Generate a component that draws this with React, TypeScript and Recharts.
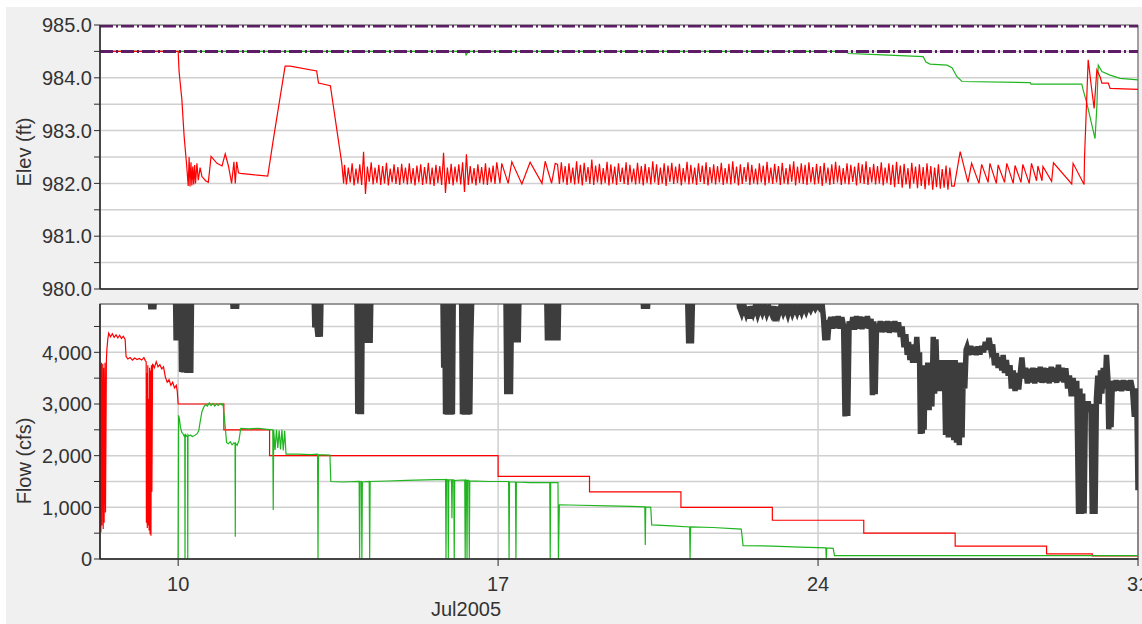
import React from 'react';
import { LineChart, Line, XAxis, YAxis, CartesianGrid, ReferenceArea } from 'recharts';

const FONT = '"Liberation Sans", Arial, Helvetica, sans-serif';

// ---------- shared x axis (day of July 2005) ----------
const dayDomain = [8.29, 31];
const dayTicks = [10, 17, 24, 31];
const monthLabel = 'Jul2005';

// ---------- top chart: elevation ----------
const elevDomain = [980, 985];
const elevTicks = [980, 980.5, 981, 981.5, 982, 982.5, 983, 983.5, 984, 984.5, 985];
const elevLimitLevels = [984.98, 984.5];

const elevGreenPts = [
  [8.29, 984.5], [16.28, 984.5], [16.3, 984.43], [16.33, 984.47], [16.35, 984.5],
  [24.63, 984.5], [24.66, 984.46], [25.29, 984.44], [26.3, 984.4], [26.36, 984.3],
  [26.45, 984.26], [26.82, 984.24], [26.93, 984.19], [27.04, 984.02], [27.15, 983.93],
  [28.64, 983.91], [28.66, 983.88], [29.77, 983.88], [29.8, 983.77], [29.88, 983.52],
  [30.06, 982.85], [30.1, 983.45], [30.13, 984.24], [30.21, 984.12], [30.39, 984.05],
  [30.61, 983.99], [31.0, 983.96],
];

const elevRedA = [
  [8.29, 984.5], [10.0, 984.5], [10.02, 984.12], [10.08, 983.6], [10.13, 982.9], [10.19, 982.3],
  [10.22, 981.95], [10.24, 982.5], [10.26, 981.94], [10.28, 982.4], [10.3, 981.96], [10.32, 982.32],
  [10.34, 981.98], [10.36, 982.35], [10.38, 982.0], [10.41, 982.38], [10.44, 982.06], [10.48, 982.3],
  [10.52, 982.13], [10.6, 982.05], [10.66, 982.02], [10.72, 982.51], [10.85, 982.38], [10.96, 982.33],
  [11.03, 982.56], [11.1, 982.33], [11.17, 982.0], [11.22, 982.41], [11.25, 982.0], [11.28, 982.41],
  [11.32, 982.2], [11.36, 982.19], [11.68, 982.16], [11.96, 982.14], [12.08, 982.82], [12.34, 984.22],
  [12.45, 984.22], [13.03, 984.13], [13.07, 983.9], [13.33, 983.85], [13.58, 982.38], [13.62, 982.0],
];
const elevRedDense1Start = 13.64;
const elevRedDense1 = [
  982.35, 981.98, 982.30, 982.02, 982.38, 981.96, 982.28, 982.00, 982.36, 981.97,
  982.60, 981.80, 982.32, 982.03, 982.40, 981.98, 982.30, 982.01, 982.35, 981.97,
  982.33, 982.00, 982.39, 981.96, 982.28, 982.02, 982.36, 981.99, 982.31, 981.97,
  982.37, 982.01, 982.30, 981.98, 982.38, 982.00, 982.29, 981.96, 982.34, 982.02,
  982.36, 981.97, 982.31, 982.00, 982.39, 981.98, 982.30, 981.95, 982.35, 982.01,
  982.33, 981.97, 982.58, 981.82, 982.30, 981.99, 982.37, 981.96, 982.32, 982.02,
  982.36, 981.98, 982.40, 981.84, 982.55, 981.97, 982.33, 982.00, 982.29, 981.96,
  982.36, 982.01, 982.31, 981.98, 982.38, 981.97, 982.30, 982.02, 982.34, 981.99,
];
const elevRedB = [
  [16.97, 982.4], [17.04, 982.0], [17.08, 982.38], [17.22, 982.0], [17.3, 982.41], [17.52, 981.99],
  [17.7, 982.4], [17.96, 982.0], [18.03, 982.42], [18.17, 982.0], [18.25, 982.38],
];
const elevRedDense2Start = 18.3;
const elevRedDense2 = [
  982.36, 981.99, 982.40, 982.02, 982.33, 981.97, 982.38, 982.01, 982.30, 981.98, 982.42, 982.00,
  982.35, 981.96, 982.39, 982.03, 982.31, 981.99, 982.45, 981.97, 982.34, 982.02, 982.37, 981.98,
  982.29, 982.01, 982.41, 981.96, 982.36, 982.00, 982.32, 981.97, 982.38, 982.03, 982.30, 981.99,
  982.40, 981.97, 982.35, 982.02, 982.28, 981.98, 982.39, 982.00, 982.33, 981.96, 982.37, 982.01,
  982.31, 981.98, 982.42, 982.02, 982.36, 981.97, 982.30, 982.00, 982.38, 981.95, 982.34, 982.03,
  982.39, 981.99, 982.32, 982.01, 982.37, 981.96, 982.29, 982.02, 982.41, 981.98, 982.35, 982.00,
  982.30, 981.97, 982.38, 982.03, 982.34, 981.99, 982.40, 981.96, 982.31, 982.01, 982.36, 981.98,
  982.33, 982.02, 982.39, 981.97, 982.29, 982.00, 982.37, 981.98, 982.42, 982.01, 982.32, 981.96,
  982.36, 981.99, 982.31, 982.03, 982.40, 981.97, 982.35, 982.00, 982.28, 981.98, 982.38, 982.02,
  982.34, 981.96, 982.41, 982.01, 982.30, 981.99, 982.37, 982.02, 982.33, 981.97, 982.39, 982.00,
  982.29, 981.98, 982.36, 982.03, 982.42, 981.96, 982.32, 982.01, 982.38, 981.99, 982.35, 981.97,
  982.40, 982.02, 982.31, 981.98, 982.37, 982.00, 982.33, 981.95, 982.39, 982.01, 982.30, 981.97,
  982.36, 981.99, 982.41, 982.02, 982.34, 981.97, 982.29, 982.00, 982.38, 981.98, 982.35, 982.03,
  982.32, 981.96, 982.39, 982.01, 982.36, 981.99, 982.42, 981.97, 982.31, 982.02, 982.37, 981.98,
  982.33, 982.00, 982.40, 981.96, 982.30, 982.01, 982.38, 981.97, 982.35, 981.93, 982.41, 981.99,
  982.34, 981.92, 982.37, 981.98, 982.29, 981.90, 982.39, 982.00, 982.32, 981.91, 982.36, 981.95,
  982.31, 981.89, 982.38, 981.96, 982.33, 981.88, 982.30, 981.93, 982.36, 981.90, 982.27, 981.92,
  982.34, 981.88, 982.30, 981.95,
];
const elevRedC = [
  [26.98, 981.95], [27.11, 982.6], [27.28, 982.02], [27.36, 982.38], [27.52, 982.0], [27.58, 982.36],
  [27.72, 982.02], [27.76, 982.38], [27.9, 982.0], [27.94, 982.35], [28.08, 982.02], [28.13, 982.38],
  [28.27, 982.0], [28.31, 982.34], [28.44, 982.02], [28.48, 982.36], [28.62, 982.0], [28.67, 982.38],
  [28.78, 982.05], [28.81, 982.33], [28.9, 982.05], [28.92, 982.32], [29.11, 982.04], [29.15, 982.39],
  [29.55, 981.99], [29.58, 982.38], [29.82, 981.98], [29.83, 982.5], [29.91, 984.34], [29.98, 983.83],
  [30.04, 983.42], [30.1, 984.15], [30.17, 984.02], [30.21, 983.9], [30.35, 983.9], [30.39, 983.8],
  [31.0, 983.78],
];

// ---------- bottom chart: flow ----------
const flowDomain = [0, 4935];
const flowTicks = [0, 500, 1000, 1500, 2000, 2500, 3000, 3500, 4000, 4500];

const flowRedPts = [
  [8.29, 600], [8.3, 3750], [8.31, 520], [8.32, 3800], [8.33, 650], [8.35, 3780], [8.36, 580], [8.37, 3700],
  [8.38, 700], [8.4, 3800], [8.41, 900], [8.43, 3850], [8.44, 4050], [8.46, 4250], [8.48, 4370], [8.52, 4300],
  [8.56, 4360], [8.6, 4290], [8.64, 4340], [8.68, 4280], [8.72, 4330], [8.76, 4270], [8.8, 4310], [8.84, 4250],
  [8.86, 3920], [8.9, 3870], [8.95, 3900], [9.0, 3850], [9.05, 3890], [9.1, 3860], [9.15, 3880], [9.2, 3850],
  [9.25, 3900], [9.28, 3840], [9.3, 3820], [9.305, 700], [9.315, 3600], [9.325, 600], [9.335, 3750],
  [9.345, 650], [9.355, 3100], [9.365, 550], [9.375, 3700], [9.385, 480], [9.395, 3650], [9.405, 450],
  [9.415, 3750], [9.425, 1300], [9.44, 3780], [9.48, 3700], [9.52, 3820], [9.56, 3720], [9.6, 3760],
  [9.64, 3680], [9.68, 3720], [9.72, 3520], [9.76, 3420], [9.8, 3470], [9.84, 3360], [9.88, 3420],
  [9.92, 3310], [9.96, 3360], [9.98, 3250], [10.0, 3000], [11.0, 3000], [11.0, 2500], [12.0, 2500],
  [12.0, 2000], [17.0, 2000], [17.0, 1600], [19.0, 1600], [19.0, 1300], [21.0, 1300], [21.0, 1000],
  [23.0, 1000], [23.0, 750], [25.0, 750], [25.0, 500], [27.0, 500], [27.0, 250], [29.0, 250], [29.0, 100],
  [30.0, 100], [30.0, 60], [31.0, 60],
];

const flowGreenPts = [
  [10.0, 0], [10.01, 2780], [10.03, 2700], [10.05, 2550], [10.08, 2450], [10.11, 2420], [10.13, 2380],
  [10.145, 2400], [10.15, 0], [10.155, 2350], [10.17, 2400], [10.19, 2380], [10.205, 2350], [10.21, 0],
  [10.215, 2400], [10.23, 2380], [10.27, 2400], [10.31, 2370], [10.36, 2390], [10.41, 2420], [10.45, 2480],
  [10.48, 2650], [10.52, 2850], [10.56, 2940], [10.6, 2990], [10.64, 2960], [10.68, 3020], [10.72, 2970],
  [10.76, 3010], [10.8, 2960], [10.84, 3000], [10.88, 2970], [10.92, 3010], [10.96, 2980], [10.98, 3000],
  [11.01, 2750], [11.04, 2450], [11.06, 2250], [11.1, 2230], [11.14, 2270], [11.18, 2210], [11.22, 2250],
  [11.245, 2230], [11.25, 430], [11.255, 2240], [11.29, 2200], [11.33, 2290], [11.37, 2530], [11.55, 2520],
  [11.75, 2530], [11.95, 2510], [12.07, 2500], [12.08, 950], [12.09, 2500], [12.12, 2110], [12.15, 2500],
  [12.18, 2150], [12.21, 2490], [12.24, 2120], [12.27, 2500], [12.3, 2100], [12.33, 2480], [12.36, 2030],
  [12.6, 2030], [12.9, 2020], [13.05, 2030], [13.06, 0], [13.07, 2020], [13.32, 2010], [13.34, 1500],
  [13.6, 1490], [13.96, 1500], [13.97, 0], [13.98, 1500], [14.01, 1500], [14.02, 0], [14.03, 1490],
  [14.18, 1500], [14.19, 0], [14.2, 1500], [14.6, 1510], [15.0, 1520], [15.4, 1530], [15.85, 1540],
  [15.86, 0], [15.87, 1540], [15.9, 1530], [15.91, 0], [15.92, 1530], [15.98, 1530], [15.99, 790],
  [16.0, 1530], [16.03, 1530], [16.04, 0], [16.05, 1520], [16.27, 1530], [16.28, 0], [16.29, 1530],
  [16.31, 1520], [16.32, 0], [16.33, 1520], [16.36, 1520], [16.37, 0], [16.38, 1510], [16.8, 1500],
  [17.23, 1500], [17.24, 0], [17.25, 1490], [17.38, 1490], [17.39, 0], [17.4, 1490], [17.7, 1480],
  [18.13, 1480], [18.14, 0], [18.15, 1480], [18.31, 1480], [18.32, 0], [18.34, 1050], [18.8, 1040],
  [19.4, 1030], [19.9, 1020], [20.21, 1010], [20.22, 270], [20.23, 1010], [20.34, 1000], [20.36, 660],
  [20.8, 640], [21.19, 620], [21.2, 0], [21.21, 620], [21.7, 610], [22.32, 580], [22.36, 260], [23.0, 250],
  [23.6, 230], [24.17, 215], [24.18, 0], [24.19, 215], [24.33, 205], [24.36, 64], [31.0, 64],
];

const flowDarkPts = [
  [8.29, 5300], [9.37, 5300], [9.4, 4880], [9.44, 4880], [9.47, 4880], [9.5, 5300],
  [9.94, 5300], [9.955, 4230], [9.975, 5300], [9.995, 4230], [10.015, 5300], [10.035, 4230], [10.055, 5300],
  [10.075, 3620], [10.095, 5300], [10.115, 3610], [10.135, 5300], [10.155, 3620], [10.175, 5300],
  [10.195, 3600], [10.215, 5300], [10.235, 3620], [10.255, 5300], [10.275, 3600], [10.295, 5300],
  [11.17, 5300], [11.2, 4890], [11.28, 4890], [11.31, 5300],
  [12.97, 5300], [12.99, 4480], [13.02, 5300], [13.04, 4480], [13.06, 4300], [13.09, 5300], [13.11, 4300],
  [13.13, 5300],
  [13.91, 5300], [13.93, 2810], [13.95, 5300], [13.97, 2800], [13.99, 5300], [14.01, 2800], [14.03, 5300],
  [14.1, 5300], [14.12, 4180], [14.14, 5300], [14.16, 4180], [14.18, 5300], [14.2, 4180], [14.22, 5300],
  [15.79, 5300], [15.81, 3700], [15.83, 5300], [15.85, 2800], [15.87, 5300], [15.89, 2790], [15.91, 5300],
  [15.93, 2800], [15.95, 5300], [15.97, 2790], [15.99, 5300], [16.0, 2800], [16.02, 5300],
  [16.2, 5300], [16.22, 2800], [16.24, 5300], [16.26, 2790], [16.28, 5300], [16.3, 2800], [16.32, 5300],
  [16.34, 2790], [16.36, 5300], [16.38, 2800], [16.4, 4200], [16.43, 5300],
  [17.17, 5300], [17.19, 3190], [17.21, 5300], [17.23, 3190], [17.25, 5300], [17.27, 3190], [17.3, 5300],
  [17.32, 4190], [17.35, 5300], [17.38, 4190], [17.41, 5300], [17.44, 4190], [17.46, 5300],
  [18.06, 5300], [18.08, 4230], [18.11, 5300], [18.14, 4230], [18.17, 5300], [18.2, 4230], [18.23, 5300],
  [18.26, 4230], [18.29, 5300], [18.31, 4230], [18.33, 5300],
  [20.15, 5300], [20.18, 4890], [20.27, 4890], [20.3, 5300],
  [21.14, 5300], [21.17, 4170], [21.2, 5300], [21.23, 4170], [21.26, 5300],
  [22.25, 5300], [22.28, 4880], [22.33, 4760], [22.38, 4900], [22.43, 4750], [22.48, 4880], [22.5, 4650],
  [22.53, 4890], [22.58, 4760], [22.63, 4900], [22.68, 4740], [22.73, 4880], [22.78, 4770], [22.83, 4900],
  [22.88, 4750], [22.93, 4870], [22.98, 4760], [23.03, 4890], [23.06, 4600], [23.09, 4880], [23.14, 4750],
  [23.19, 4900], [23.24, 4770], [23.29, 4880], [23.34, 4740], [23.39, 4900], [23.44, 4760], [23.49, 4880],
  [23.54, 4770], [23.59, 4900], [23.64, 4780], [23.69, 4910], [23.74, 4800], [23.79, 4920], [23.84, 4830],
  [23.89, 4930], [23.94, 4850], [23.99, 4930], [24.04, 4860], [24.09, 4920],
  [24.12, 4650], [24.15, 4230], [24.18, 4620], [24.21, 4240], [24.24, 4560],
  [24.28, 4680], [24.32, 4460], [24.36, 4690], [24.4, 4470], [24.44, 4700], [24.48, 4460], [24.52, 4680],
  [24.56, 4500], [24.59, 2760], [24.62, 4550], [24.65, 2770], [24.68, 4600],
  [24.72, 4450], [24.76, 4680], [24.8, 4440], [24.84, 4700], [24.88, 4460], [24.92, 4690], [24.96, 4450],
  [25.0, 4680], [25.04, 4470], [25.08, 4700], [25.12, 4460],
  [25.16, 4650], [25.19, 3170], [25.22, 4600], [25.25, 3190], [25.28, 4550],
  [25.32, 4400], [25.36, 4600], [25.4, 4390], [25.44, 4590], [25.48, 4400], [25.52, 4600], [25.56, 4380],
  [25.6, 4590], [25.64, 4400], [25.68, 4600], [25.72, 4390], [25.76, 4580],
  [25.8, 4300], [25.84, 4500], [25.88, 4100], [25.92, 4350], [25.95, 3950], [25.98, 4200], [26.01, 3850],
  [26.04, 4100], [26.07, 3800], [26.1, 4150], [26.13, 3850], [26.16, 4300], [26.19, 3800], [26.22, 4000],
  [26.24, 2420], [26.26, 3700], [26.28, 2430], [26.3, 3750], [26.32, 2500], [26.34, 3700], [26.37, 2900],
  [26.4, 3800], [26.43, 2880], [26.46, 3750], [26.49, 2950], [26.52, 4300], [26.55, 3200], [26.58, 4250],
  [26.61, 3250], [26.64, 3850], [26.67, 3250], [26.7, 3800], [26.73, 3300], [26.76, 3850], [26.79, 2400],
  [26.82, 3800], [26.85, 2350], [26.88, 3850], [26.91, 2400], [26.94, 3800], [26.97, 2300], [27.0, 3850],
  [27.03, 2250], [27.06, 3800], [27.09, 2200], [27.12, 3750], [27.15, 2350], [27.18, 3800], [27.21, 3300],
  [27.24, 4050],
  [27.26, 4100], [27.3, 3950], [27.34, 4120], [27.38, 3960], [27.42, 4100], [27.46, 3950], [27.5, 4110],
  [27.54, 3960], [27.58, 4120],
  [27.62, 4000], [27.66, 4200], [27.7, 4050], [27.74, 4280], [27.78, 4060], [27.82, 4150],
  [27.86, 3750], [27.9, 3980], [27.94, 3700], [27.98, 3900], [28.02, 3650],
  [28.05, 3950], [28.08, 3600], [28.12, 3850], [28.16, 3550], [28.2, 3750],
  [28.23, 3300], [28.27, 3650], [28.31, 3250], [28.35, 3600], [28.39, 3280],
  [28.43, 3650], [28.46, 3900], [28.5, 3500],
  [28.54, 3700], [28.58, 3400], [28.62, 3680], [28.66, 3420], [28.7, 3700], [28.74, 3400], [28.78, 3690],
  [28.82, 3430], [28.86, 3720], [28.9, 3410], [28.94, 3700], [28.98, 3420], [29.02, 3690], [29.06, 3400],
  [29.1, 3720], [29.14, 3430], [29.18, 3700], [29.22, 3410], [29.26, 3760], [29.3, 3440], [29.34, 3700],
  [29.38, 3420], [29.42, 3690],
  [29.46, 3300], [29.5, 3550], [29.54, 3150], [29.58, 3500], [29.62, 3150], [29.66, 3450],
  [29.7, 870], [29.73, 3300], [29.76, 870], [29.79, 3200], [29.82, 880],
  [29.85, 3050], [29.88, 2850], [29.91, 3050], [29.94, 2850], [29.97, 3000],
  [30.0, 870], [30.03, 3000], [30.06, 870], [30.09, 3100],
  [30.12, 3550], [30.15, 3000], [30.18, 3650], [30.21, 3200], [30.24, 3700], [30.28, 3300], [30.31, 3950],
  [30.34, 3500], [30.36, 2510], [30.39, 3450], [30.41, 2550],
  [30.44, 3450], [30.48, 3250], [30.52, 3460], [30.56, 3260], [30.6, 3450], [30.64, 3250], [30.68, 3460],
  [30.72, 3270], [30.76, 3450], [30.8, 3260], [30.84, 3460], [30.88, 3280],
  [30.92, 2750], [30.95, 3300], [30.98, 2700], [31.0, 1330],
];

// ---------- helpers ----------
const HOUR = 1 / 24;
const pts = (a: number[][]) => a.map(([t, v]) => ({ t, v }));
const hourly = (start: number, vals: number[]) => vals.map((v, i) => ({ t: start + i * HOUR, v }));

const elevRedData = [
  ...pts(elevRedA),
  ...hourly(elevRedDense1Start, elevRedDense1),
  ...pts(elevRedB),
  ...hourly(elevRedDense2Start, elevRedDense2),
  ...pts(elevRedC),
];
const elevGreenData = pts(elevGreenPts);
const elevLimitData = elevLimitLevels.map((lv) => [
  { t: dayDomain[0], v: lv },
  { t: dayDomain[1], v: lv },
]);
const flowRedData = pts(flowRedPts);
const flowGreenData = pts(flowGreenPts);
const flowDarkData = pts(flowDarkPts);

const TICK_COLOR = '#333333';
const FS = 20;

const makeYTick = (fmt: (v: number) => string | null) => (props: any) => {
  const { x, y, payload } = props;
  const label = fmt(payload.value);
  if (label == null) return <g />;
  return (
    <text x={x} y={y} dy="0.36em" textAnchor="end" fontSize={FS} fill={TICK_COLOR} fontFamily={FONT}>
      {label}
    </text>
  );
};

const elevTick = makeYTick((v) => (Math.abs(v - Math.round(v)) < 1e-6 ? v.toFixed(1) : null));
const flowTick = makeYTick((v) => (v % 1000 === 0 ? v.toLocaleString('en-US') : null));

const XTick = (props: any) => {
  const { x, y, payload } = props;
  return (
    <text x={x} y={y} dy="0.72em" textAnchor="middle" fontSize={FS} fill={TICK_COLOR} fontFamily={FONT}>
      {String(payload.value)}
    </text>
  );
};

const RED = '#ff0000';
const GREEN = '#1fb51f';
const DARK = '#3d3d3d';
const PURPLE = '#5c1d66';
const GRID = '#d0d0d0';
const AXIS = '#2a2a2a';

export default function App() {
  return (
    <div
      style={{
        position: 'absolute',
        left: 0,
        top: 0,
        width: 1142,
        height: 624,
        background: '#ffffff',
        overflow: 'hidden',
        fontFamily: FONT,
      }}
    >
      <div style={{ position: 'absolute', left: 6, top: 7, right: 0, bottom: 0, background: '#f0f0f0' }} />

      <div style={{ position: 'absolute', left: 0, top: 0 }}>
        <LineChart width={1142} height={305} margin={{ top: 25, right: 4, bottom: 15, left: 0 }}>
          <CartesianGrid stroke={GRID} strokeWidth={1.5} fill="#ffffff" fillOpacity={1} />
          <XAxis
            dataKey="t"
            type="number"
            domain={dayDomain}
            ticks={dayTicks}
            allowDataOverflow
            tick={false}
            tickLine={false}
            height={1}
            axisLine={{ stroke: AXIS, strokeWidth: 1.5 }}
          />
          <YAxis
            type="number"
            domain={elevDomain}
            ticks={elevTicks}
            interval={0}
            allowDataOverflow
            width={100}
            tickSize={6}
            tickMargin={2}
            tick={elevTick}
            tickLine={{ stroke: AXIS }}
            axisLine={{ stroke: AXIS, strokeWidth: 1.5 }}
          />
          <ReferenceArea
            x1={dayDomain[0]}
            x2={dayDomain[1]}
            y1={elevDomain[0]}
            y2={elevDomain[1]}
            fill="none"
            fillOpacity={0}
            stroke="#666666"
            strokeWidth={1}
          />
          <Line data={elevGreenData} dataKey="v" stroke={GREEN} strokeWidth={1.2} dot={false} activeDot={false} isAnimationActive={false} />
          <Line data={elevRedData} dataKey="v" stroke={RED} strokeWidth={1.2} dot={false} activeDot={false} isAnimationActive={false} />
          {elevLimitData.map((d, i) => (
            <Line
              key={i}
              data={d}
              dataKey="v"
              stroke={PURPLE}
              strokeWidth={3}
              strokeDasharray="13 3 2 3"
              dot={false}
              activeDot={false}
              isAnimationActive={false}
            />
          ))}
        </LineChart>
      </div>

      <div style={{ position: 'absolute', left: 0, top: 295 }}>
        <LineChart width={1142} height={329} margin={{ top: 9, right: 4, bottom: 0, left: 0 }}>
          <CartesianGrid stroke={GRID} strokeWidth={1.5} fill="#ffffff" fillOpacity={1} />
          <XAxis
            dataKey="t"
            type="number"
            domain={dayDomain}
            ticks={dayTicks}
            interval={0}
            allowDataOverflow
            height={65}
            tickSize={7}
            tickMargin={11}
            tick={XTick}
            tickLine={{ stroke: AXIS }}
            axisLine={{ stroke: AXIS, strokeWidth: 1.5 }}
          />
          <YAxis
            type="number"
            domain={flowDomain}
            ticks={flowTicks}
            interval={0}
            allowDataOverflow
            width={100}
            tickSize={6}
            tickMargin={2}
            tick={flowTick}
            tickLine={{ stroke: AXIS }}
            axisLine={{ stroke: AXIS, strokeWidth: 1.5 }}
          />
          <ReferenceArea
            x1={dayDomain[0]}
            x2={dayDomain[1]}
            y1={flowDomain[0]}
            y2={flowDomain[1]}
            fill="none"
            fillOpacity={0}
            stroke="#555555"
            strokeWidth={1.2}
          />
          <Line data={flowDarkData} dataKey="v" stroke={DARK} strokeWidth={5.5} dot={false} activeDot={false} isAnimationActive={false} />
          <Line data={flowRedData} dataKey="v" stroke={RED} strokeWidth={1.2} dot={false} activeDot={false} isAnimationActive={false} />
          <Line data={flowGreenData} dataKey="v" stroke={GREEN} strokeWidth={1.2} dot={false} activeDot={false} isAnimationActive={false} />
        </LineChart>
      </div>

      <svg
        width={1142}
        height={624}
        style={{ position: 'absolute', left: 0, top: 0, pointerEvents: 'none' }}
      >
        <text
          transform="translate(24,152) rotate(-90)"
          textAnchor="middle"
          dominantBaseline="central"
          fontSize={FS}
          fill={TICK_COLOR}
          fontFamily={FONT}
        >
          Elev (ft)
        </text>
        <text
          transform="translate(24,461) rotate(-90)"
          textAnchor="middle"
          dominantBaseline="central"
          fontSize={FS}
          fill={TICK_COLOR}
          fontFamily={FONT}
        >
          Flow (cfs)
        </text>
        <text x={466} y={616} textAnchor="middle" fontSize={FS} fill={TICK_COLOR} fontFamily={FONT}>
          {monthLabel}
        </text>
      </svg>
    </div>
  );
}
